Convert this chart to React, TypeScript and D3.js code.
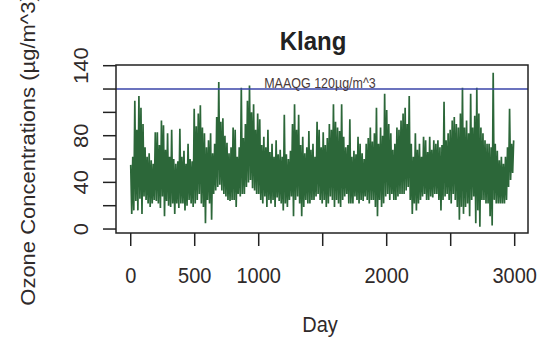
import React from "react";
import * as d3 from "d3";

// Daily ozone readings (µg/m^3), one reading every 8 days
const dayStep = 8;
const ozone: number[] = [
  55,13,62,16,110,24,85,16,114,26,104,13,90,28,70,25,62,22,65,19,59,22,56,25,83,
  24,83,22,72,18,93,28,89,11,68,24,82,20,62,19,85,22,60,13,56,22,58,18,86,22,
  62,22,67,16,56,20,73,25,60,22,58,19,103,22,88,25,99,30,106,22,87,19,82,5,70,
  25,76,22,82,8,65,30,73,33,96,36,126,38,92,33,95,30,80,28,74,25,65,24,70,25,
  87,25,85,19,62,30,70,28,121,30,78,30,90,36,110,40,123,42,100,35,107,33,85,30,99,
  30,94,25,72,22,79,28,70,19,85,25,66,22,73,25,62,19,76,27,64,24,68,22,62,16,
  98,22,64,19,60,25,67,28,90,11,107,25,85,28,98,22,72,11,79,19,65,25,70,22,84,
  22,68,25,73,25,62,28,92,30,85,25,70,22,83,25,72,19,78,22,90,28,85,25,107,19,
  92,25,87,22,84,19,107,25,79,28,70,30,72,22,94,22,62,22,67,28,64,25,79,22,73,
  25,65,24,60,28,73,25,78,22,87,25,75,25,82,19,104,11,73,25,87,19,80,22,116,28,
  102,30,90,25,82,30,68,25,73,25,87,28,85,30,93,30,99,30,104,33,90,36,114,25,73,
  13,62,22,82,16,68,22,73,25,62,28,79,30,76,25,66,25,79,28,68,27,76,30,73,30,
  76,25,70,16,72,25,109,28,76,30,82,25,85,22,93,30,96,25,90,19,87,8,99,19,121,
  13,87,19,93,22,82,11,116,25,87,28,97,5,121,16,99,2,87,25,82,25,76,22,73,22,
  73,11,70,3,134,25,73,22,67,22,59,22,62,22,56,22,62,25,70,36,103,42,73,48,76,
];

const xTickValues = [0, 500, 1000, 1500, 2000, 2500, 3000];
const xLabelValues = [0, 500, 1000, 2000, 3000];
const yTickValues = [0, 20, 40, 60, 80, 100, 120, 140];
const yLabelValues = [0, 40, 80, 140];
const limitValue = 120;
const limitLabel = "MAAQG 120µg/m^3";
const title = "Klang";
const xTitle = "Day";
const yTitle = "Ozone Concentrations (µg/m^3)";

const W = 540;
const H = 341;
const box = { left: 116, right: 528, top: 65, bottom: 233 };
const FONT = "'Liberation Sans', Arial, sans-serif";
const TEXT = "#2f2a2a";
const SY = 1.1;

export default function App() {
  const x = d3.scaleLinear().domain([-115, 3104]).range([box.left, box.right]);
  const y = d3.scaleLinear().domain([-3.4, 140.6]).range([box.bottom, box.top]);
  const pts = ozone.map((v, i) => [i * dayStep, v] as [number, number]);
  const line = d3
    .line<[number, number]>()
    .x((d) => x(d[0]))
    .y((d) => y(d[1]));

  return (
    <div style={{ position: "fixed", left: 0, top: 0, width: W, height: H, background: "#fff" }}>
      <svg width={W} height={H} style={{ display: "block" }} fontFamily={FONT}>
        <rect x={0} y={0} width={W} height={H} fill="#fff" />
        <path d={line(pts) || ""} fill="none" stroke="#2c6739" strokeWidth={1.7} strokeLinejoin="bevel" />
        <line x1={box.left} x2={box.right} y1={y(limitValue)} y2={y(limitValue)} stroke="#3a45a8" strokeWidth={1.5} />
        <text
          transform={`translate(${(box.left + box.right) / 2 - 2},${y(limitValue) - 1.5}) scale(1,${SY})`}
          textAnchor="middle"
          fontSize={12.5}
          fill="#4a3a3a"
        >
          {limitLabel}
        </text>
        <rect
          x={box.left}
          y={box.top}
          width={box.right - box.left}
          height={box.bottom - box.top}
          fill="none"
          stroke="#222"
          strokeWidth={1.5}
        />
        {yTickValues.map((v) => (
          <line key={"yt" + v} x1={box.left - 13} x2={box.left} y1={y(v)} y2={y(v)} stroke="#222" strokeWidth={1.5} />
        ))}
        {yLabelValues.map((v) => (
          <text
            key={"yl" + v}
            transform={`translate(87.5,${y(v)}) scale(1,${SY}) rotate(-90)`}
            textAnchor="middle"
            fontSize={20}
            fill={TEXT}
          >
            {v}
          </text>
        ))}
        {xTickValues.map((v) => (
          <line key={"xt" + v} x1={x(v)} x2={x(v)} y1={box.bottom} y2={box.bottom + 13} stroke="#222" strokeWidth={1.5} />
        ))}
        {xLabelValues.map((v) => (
          <text
            key={"xl" + v}
            transform={`translate(${x(v)},283) scale(1,${SY})`}
            textAnchor="middle"
            fontSize={20}
            fill={TEXT}
          >
            {v}
          </text>
        ))}
        <text
          transform={`translate(313,50) scale(1,${SY})`}
          textAnchor="middle"
          fontSize={24}
          fontWeight="bold"
          fill="#222"
        >
          {title}
        </text>
        <text
          transform={`translate(320,332) scale(1,${SY})`}
          textAnchor="middle"
          fontSize={20}
          fill={TEXT}
        >
          {xTitle}
        </text>
        <text
          transform={`translate(35,150) scale(1,${SY}) rotate(-90)`}
          textAnchor="middle"
          fontSize={20}
          fill={TEXT}
        >
          {yTitle}
        </text>
      </svg>
    </div>
  );
}
